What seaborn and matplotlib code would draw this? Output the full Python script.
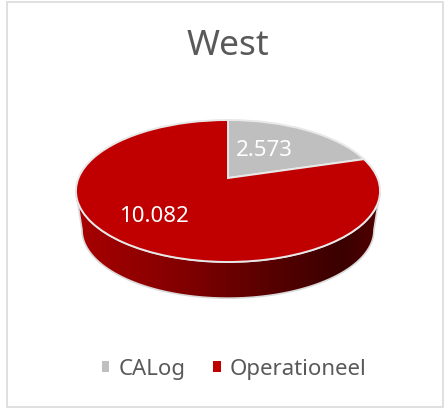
import numpy as np
import matplotlib
matplotlib.use("Agg")
import matplotlib.pyplot as plt
import seaborn as sns
from matplotlib.colors import LinearSegmentedColormap
from matplotlib.patches import Polygon, Rectangle
from matplotlib.transforms import Transform

# data
Title = "West"
Categories = ["CALog", "Operationeel"]
Values = [2573, 10082]
Colors = ["#BFBFBF", "#C00000"]

sns.set_theme(style="white")
plt.rcParams['font.family'] = ['Noto Sans', 'DejaVu Sans']

Text_Color = "#595959"


class Tilt(Transform):
    """unit circle -> pixel position, perspective of the tilted disc"""
    input_dims = 2
    output_dims = 2
    is_separable = False
    has_inverse = False

    def __init__(self, cx, cy, a, b, k):
        super().__init__()
        self.cx, self.cy, self.a, self.b, self.k = cx, cy, a, b, k

    def transform_non_affine(self, values):
        values = np.asarray(values, dtype=float)
        u, v = values[:, 0], values[:, 1]
        d = 1 + self.k * v
        return np.column_stack([self.cx + self.a * u / d, self.cy - self.b * v / d])


fig = plt.figure(figsize=(4.46, 4.10), dpi=100)
ax = fig.add_axes([0, 0, 1, 1])

wedges, _ = ax.pie(Values, colors=Colors, startangle=90, counterclock=False,
                   wedgeprops={'edgecolor': '#E8E8E8', 'linewidth': 1.4})

top = Tilt(228, 179, 149.5, 68.6, 0.183)
bottom = Tilt(228, 218.5, 143.5, 65.9, 0.183)
for w in wedges:
    w.set_transform(top + ax.transData)
    w.set_zorder(3)

# side of the disc
theta = np.linspace(np.radians(190.5), np.radians(349.5), 200)
circle = np.column_stack([np.cos(theta), np.sin(theta)])
rim = np.vstack([top.transform(circle), bottom.transform(circle)[::-1]])
side = Polygon(rim, closed=True, transform=ax.transData, facecolor='none',
               edgecolor='#D9D9D9', linewidth=1.2, zorder=2)
ax.add_patch(side)
side_cmap = LinearSegmentedColormap.from_list(
    "side", [(0, "#A80000"), (0.35, "#820000"), (0.65, "#560000"),
             (0.88, "#3A0000"), (1, "#520000")])
img = ax.imshow(np.linspace(0, 1, 300).reshape(1, -1), cmap=side_cmap, aspect='auto',
                extent=(76, 380, 300, 190), zorder=1)
img.set_clip_path(side)

ax.set_aspect('auto')
ax.set_xlim(0, 446)
ax.set_ylim(410, 0)
ax.axis('off')

ax.text(228, 46, Title, fontsize=25.5, color=Text_Color, ha='center', va='center')
Label_Pos = [(264, 151), (154, 217)]
for val, pos in zip(Values, Label_Pos):
    ax.text(pos[0], pos[1], f"{val:,}".replace(",", "."), fontsize=16, color='white',
            ha='center', va='center', zorder=5)

leg = ax.legend(wedges, Categories, loc='center', bbox_to_anchor=(234, 370),
                bbox_transform=ax.transData, ncol=2, frameon=False, fontsize=16,
                labelcolor=Text_Color, handlelength=0.35, handleheight=0.35,
                handletextpad=0.4, columnspacing=1.25)
for h in leg.legend_handles:
    h.set_edgecolor('none')

fig.add_artist(Rectangle((6.5 / 446, 1 - 407.5 / 410), 436.5 / 446, 404.5 / 410,
                         transform=fig.transFigure, fill=False,
                         edgecolor='#DDDDDD', linewidth=1.3))

plt.savefig("out.png", dpi=100)
plt.close()
